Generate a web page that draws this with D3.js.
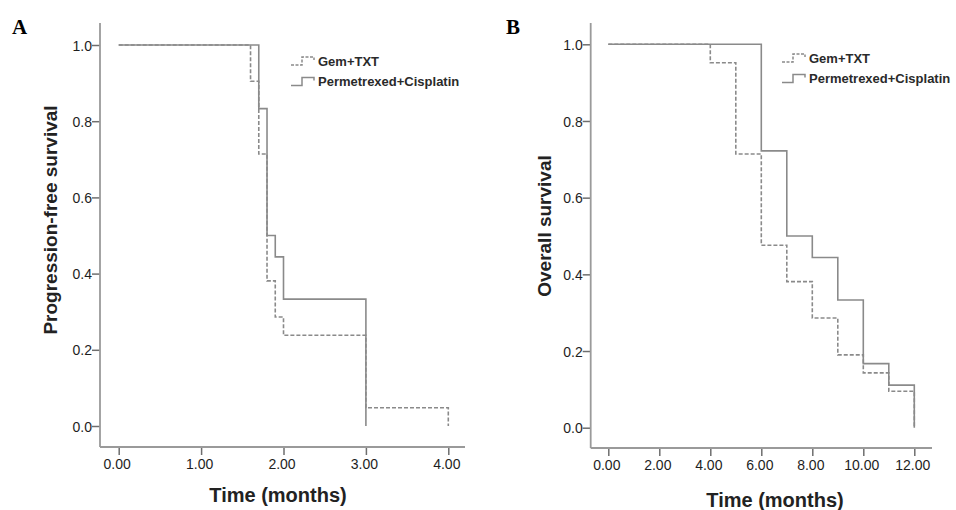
<!DOCTYPE html>
<html>
<head>
<meta charset="utf-8">
<script src="https://cdn.jsdelivr.net/npm/d3@7"></script>
<style>
  body { margin: 0; background: #fff; }
  svg { display: block; }
  .tick text { font-family: Arial, "Liberation Sans", sans-serif; font-size: 14px; fill: #1e1e1e; }
  .title { font-family: Arial, "Liberation Sans", sans-serif; font-weight: bold; fill: #222; }
  .legend { font-family: Arial, "Liberation Sans", sans-serif; font-weight: bold; font-size: 13px; fill: #2a2a2a; }
  .panel-label { font-family: "Liberation Serif", "Times New Roman", serif; font-weight: bold; font-size: 21px; fill: #000; }
</style>
</head>
<body>
<svg width="956" height="510"></svg>
<script>
  // series names
  const seriesNames = ['Gem+TXT', 'Permetrexed+Cisplatin'];

  // Panel A: progression-free survival, step times (months) and survival after each step
  const pfsGemTimes = [0, 1.6, 1.7, 1.8, 1.9, 2.0, 3.0, 4.0];
  const pfsGemSurv = [1.0, 0.905, 0.714, 0.381, 0.286, 0.238, 0.048, 0.0];
  const pfsPemTimes = [0, 1.7, 1.8, 1.9, 2.0, 3.0];
  const pfsPemSurv = [1.0, 0.833, 0.5, 0.444, 0.333, 0.0];

  // Panel B: overall survival
  const osGemTimes = [0, 4, 5, 6, 7, 8, 9, 10, 11, 12];
  const osGemSurv = [1.0, 0.952, 0.714, 0.476, 0.381, 0.286, 0.190, 0.143, 0.095, 0.0];
  const osPemTimes = [0, 6, 7, 8, 9, 10, 11, 12];
  const osPemSurv = [1.0, 0.722, 0.5, 0.444, 0.333, 0.167, 0.111, 0.0];

  // tick labels
  const pfsXTicks = [0, 1, 2, 3, 4];
  const osXTicks = [0, 2, 4, 6, 8, 10, 12];
  const yTicks = [0, 0.2, 0.4, 0.6, 0.8, 1.0];

  let svg = d3.select('svg');
  let lineColor = '#8a8a8a';

  function zip(times, surv) {
    return times.map(function(t, i) { return { t: t, s: surv[i] }; });
  }

  let panels = [
    {
      label: 'A', labelX: 12, labelY: 34,
      xDomain: [0, 4], xRange: [118.7, 448.3], yRange: [426, 45],
      axisX: 100, axisY: 447, axisTop: 23, axisRight: 465,
      xTicks: pfsXTicks,
      yTitle: 'Progression-free survival', yTitleX: 57, yTitleY: 220,
      xTitleX: 278, xTitleY: 502,
      legendX: 291, legendY: 61,
      series: [zip(pfsGemTimes, pfsGemSurv), zip(pfsPemTimes, pfsPemSurv)]
    },
    {
      label: 'B', labelX: 506, labelY: 34,
      xDomain: [0, 12], xRange: [608.3, 914.3], yRange: [427.7, 44.3],
      axisX: 590.7, axisY: 448, axisTop: 23, axisRight: 932,
      xTicks: osXTicks,
      yTitle: 'Overall survival', yTitleX: 551, yTitleY: 226,
      xTitleX: 775, xTitleY: 507,
      legendX: 782, legendY: 58,
      series: [zip(osGemTimes, osGemSurv), zip(osPemTimes, osPemSurv)]
    }
  ];

  panels.forEach(function(p) {
    let x = d3.scaleLinear().domain(p.xDomain).range(p.xRange);
    let y = d3.scaleLinear().domain([0, 1]).range(p.yRange);
    let g = svg.append('g');

    // axes
    let xAxis = g.append('g')
      .attr('transform', 'translate(0,' + p.axisY + ')')
      .call(d3.axisBottom(x).tickValues(p.xTicks).tickSize(8).tickPadding(4)
        .tickFormat(d3.format('.2f')));
    let yAxis = g.append('g')
      .attr('transform', 'translate(' + p.axisX + ',0)')
      .call(d3.axisLeft(y).tickValues(yTicks).tickSize(8).tickPadding(0)
        .tickFormat(d3.format('.1f')));
    [xAxis, yAxis].forEach(function(a) {
      a.select('.domain').remove();
      a.selectAll('.tick line').attr('stroke', '#6e6e6e').attr('stroke-width', 1.5);
    });
    xAxis.selectAll('.tick text').attr('dx', '-2');
    yAxis.selectAll('.tick text').attr('dy', '0.36em');

    g.append('line')
      .attr('x1', p.axisX).attr('x2', p.axisX)
      .attr('y1', p.axisTop).attr('y2', p.axisY)
      .attr('stroke', '#9a9a9a').attr('stroke-width', 1.8);
    g.append('line')
      .attr('x1', p.axisX).attr('x2', p.axisRight)
      .attr('y1', p.axisY).attr('y2', p.axisY)
      .attr('stroke', '#9a9a9a').attr('stroke-width', 1.8);

    // survival curves (step after)
    let line = d3.line()
      .x(function(d) { return x(d.t); })
      .y(function(d) { return y(d.s); })
      .curve(d3.curveStepAfter);

    p.series.forEach(function(data, i) {
      g.append('path')
        .datum(data)
        .attr('d', line)
        .attr('fill', 'none')
        .attr('stroke', lineColor)
        .attr('stroke-width', 1.6)
        .attr('stroke-dasharray', i === 0 ? '4,2' : null);
    });

    // legend
    seriesNames.forEach(function(name, i) {
      let ly = p.legendY + i * 20.5;
      g.append('path')
        .attr('d', 'M' + p.legendX + ',' + (ly + 4) + 'H' + (p.legendX + 11) +
          'V' + (ly - 4) + 'H' + (p.legendX + 23) + 'V' + (ly - 1))
        .attr('fill', 'none')
        .attr('stroke', lineColor)
        .attr('stroke-width', 1.5)
        .attr('stroke-dasharray', i === 0 ? '3,1.5' : null);
      g.append('text')
        .attr('class', 'legend')
        .attr('x', p.legendX + 27)
        .attr('y', ly)
        .attr('dy', '0.36em')
        .text(name);
    });

    // titles
    g.append('text')
      .attr('class', 'title')
      .attr('font-size', 20)
      .attr('text-anchor', 'middle')
      .attr('x', p.xTitleX).attr('y', p.xTitleY)
      .text('Time (months)');
    g.append('text')
      .attr('class', 'title')
      .attr('font-size', 19)
      .attr('text-anchor', 'middle')
      .attr('transform', 'translate(' + p.yTitleX + ',' + p.yTitleY + ') rotate(-90)')
      .text(p.yTitle);

    g.append('text')
      .attr('class', 'panel-label')
      .attr('x', p.labelX).attr('y', p.labelY)
      .text(p.label);
  });
</script>
</body>
</html>
